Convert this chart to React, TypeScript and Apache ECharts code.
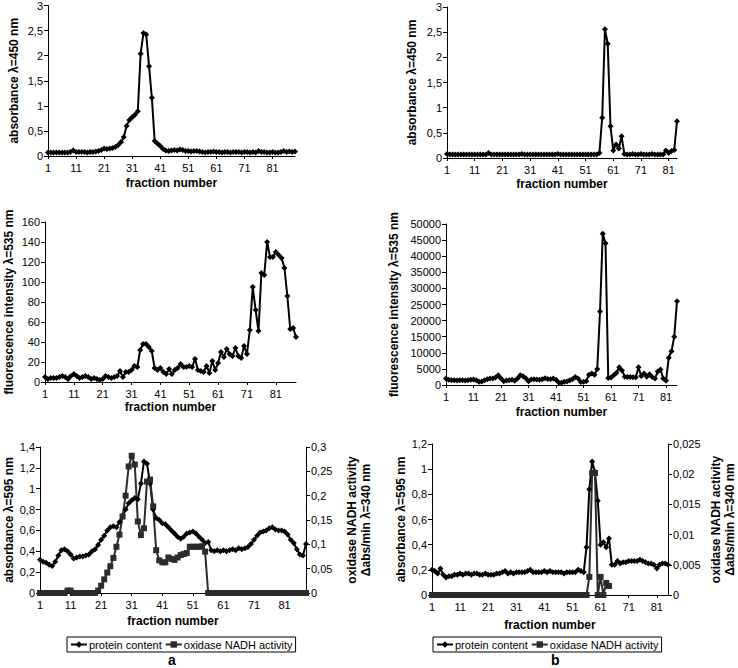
import React, { useEffect, useRef } from "react";
import * as echarts from "echarts";

// ---------- data ----------
// panel a, top: absorbance at 450 nm (fractions 1..89)
const absorbance450A = [
  0.07, 0.07, 0.07, 0.07, 0.07, 0.07, 0.07, 0.07, 0.08, 0.11,
  0.08, 0.08, 0.08, 0.08, 0.07, 0.08, 0.08, 0.09, 0.10, 0.12,
  0.15, 0.14, 0.15, 0.16, 0.18, 0.22, 0.28, 0.38, 0.60, 0.72,
  0.77, 0.82, 0.89, 2.04, 2.45, 2.42, 1.79, 1.16, 0.30, 0.25,
  0.20, 0.14, 0.11, 0.10, 0.11, 0.12, 0.11, 0.13, 0.12, 0.10,
  0.10, 0.09, 0.10, 0.10, 0.09, 0.08, 0.07, 0.08, 0.08, 0.09,
  0.08, 0.08, 0.07, 0.08, 0.08, 0.07, 0.08, 0.08, 0.08, 0.07,
  0.08, 0.08, 0.07, 0.08, 0.07, 0.10, 0.08, 0.08, 0.07, 0.07,
  0.08, 0.07, 0.07, 0.08, 0.10, 0.08, 0.09, 0.08, 0.09,
];
// panel b, top: absorbance at 450 nm (fractions 1..84)
const absorbance450B = [
  0.08, 0.07, 0.07, 0.07, 0.07, 0.07, 0.07, 0.07, 0.07, 0.07,
  0.07, 0.07, 0.07, 0.07, 0.07, 0.10, 0.07, 0.07, 0.07, 0.07,
  0.07, 0.07, 0.07, 0.07, 0.07, 0.07, 0.07, 0.08, 0.07, 0.07,
  0.07, 0.07, 0.07, 0.07, 0.07, 0.07, 0.07, 0.07, 0.07, 0.07,
  0.08, 0.07, 0.07, 0.07, 0.07, 0.07, 0.07, 0.07, 0.07, 0.07,
  0.07, 0.07, 0.07, 0.07, 0.07, 0.10, 0.80, 2.56, 2.27, 0.63,
  0.15, 0.27, 0.19, 0.43, 0.08, 0.07, 0.07, 0.08, 0.07, 0.07,
  0.08, 0.07, 0.07, 0.07, 0.08, 0.07, 0.07, 0.07, 0.07, 0.15,
  0.10, 0.14, 0.16, 0.73,
];
// panel a, middle: fluorescence at 535 nm (fractions 1..88)
const fluorescenceA = [
  5, 3, 4, 4, 4, 5, 6, 5, 3, 6,
  8, 6, 4, 5, 6, 5, 3, 4, 3, 2,
  3, 6, 5, 4, 5, 6, 11, 5, 10, 10,
  12, 16, 15, 32, 38, 38, 35, 31, 14, 12,
  14, 10, 8, 13, 8, 12, 14, 18, 15, 15,
  16, 15, 23, 12, 11, 10, 16, 9, 21, 12,
  19, 30, 25, 33, 28, 26, 34, 26, 24, 36,
  28, 52, 95, 72, 51, 109, 107, 140, 125, 125,
  130, 127, 124, 114, 86, 53, 54, 45,
];
// panel b, middle: fluorescence at 535 nm (fractions 1..85)
const fluorescenceB = [
  2000, 1600, 1500, 1500, 1400, 1500, 1500, 1400, 1500, 1600,
  1700, 1500, 1000, 1100, 1500, 1800, 2000, 2000, 2300, 3000,
  2000, 1200, 1400, 1500, 1600, 1300, 2000, 3000, 2700, 2100,
  1200, 1700, 1800, 1700, 1600, 1800, 2100, 1900, 1800, 2000,
  1600, 800, 700, 1000, 1100, 1500, 1800, 2500, 2000, 900,
  1000, 1200, 3200, 3600, 3200, 5000, 22800, 47000, 44000, 2200,
  2300, 3000, 3800, 5500, 4500, 2600, 2500, 2500, 2400, 2400,
  5500, 2800, 3600, 2600, 3300, 2500, 2000, 4200, 4800, 2000,
  1300, 8500, 10500, 15000, 26000,
];
// panel a, bottom: protein content (absorbance 595 nm) and NADH oxidase activity (fractions 1..88)
const proteinA = [
  0.32, 0.30, 0.29, 0.27, 0.26, 0.30, 0.36, 0.41, 0.42, 0.40,
  0.37, 0.33, 0.34, 0.35, 0.35, 0.36, 0.37, 0.40, 0.42, 0.46,
  0.51, 0.55, 0.60, 0.63, 0.64, 0.63, 0.68, 0.74, 0.80, 0.86,
  0.89, 0.91, 0.90, 1.05, 1.26, 1.24, 1.05, 0.80, 0.72, 0.70,
  0.67, 0.66, 0.63, 0.60, 0.57, 0.54, 0.52, 0.54, 0.57, 0.58,
  0.59, 0.57, 0.54, 0.51, 0.48, 0.49, 0.41, 0.40, 0.41, 0.40,
  0.41, 0.40, 0.41, 0.42, 0.41, 0.43, 0.42, 0.43, 0.44, 0.47,
  0.51, 0.55, 0.58, 0.59, 0.60, 0.62, 0.63, 0.61, 0.60, 0.60,
  0.59, 0.56, 0.51, 0.48, 0.42, 0.37, 0.36, 0.47,
];
const oxidaseA = [
  0, 0, 0, 0, 0, 0, 0, 0, 0, 0.005,
  0.005, 0, 0, 0, 0, 0, 0, 0, 0, 0.005,
  0.015, 0.028, 0.042, 0.055, 0.072, 0.095, 0.12, 0.157, 0.2, 0.26,
  0.282, 0.264, 0.147, 0.119, 0.133, 0.229, 0.233, 0.178, 0.088, 0.067,
  0.063, 0.063, 0.073, 0.07, 0.068, 0.073, 0.078, 0.08, 0.082, 0.095,
  0.095, 0.095, 0.095, 0.096, 0.085, 0, 0, 0, 0, 0,
  0, 0, 0, 0, 0, 0, 0, 0, 0, 0,
  0, 0, 0, 0, 0, 0, 0, 0, 0, 0,
  0, 0, 0, 0, 0, 0, 0, 0,
];
// panel b, bottom (fractions 1..85)
const proteinB = [
  0.20, 0.19, 0.17, 0.21, 0.16, 0.14, 0.15, 0.15, 0.16, 0.16,
  0.17, 0.16, 0.17, 0.17, 0.16, 0.17, 0.17, 0.16, 0.16, 0.17,
  0.16, 0.16, 0.16, 0.17, 0.17, 0.18, 0.19, 0.17, 0.18, 0.17,
  0.18, 0.18, 0.18, 0.18, 0.19, 0.20, 0.18, 0.18, 0.18, 0.18,
  0.19, 0.18, 0.19, 0.18, 0.18, 0.18, 0.18, 0.17, 0.18, 0.18,
  0.18, 0.18, 0.20, 0.19, 0.18, 0.38, 0.84, 1.06, 0.98, 0.75,
  0.40, 0.42, 0.38, 0.45, 0.24, 0.24, 0.27, 0.25, 0.26, 0.26,
  0.27, 0.27, 0.27, 0.27, 0.28, 0.27, 0.26, 0.25, 0.25, 0.24,
  0.21, 0.24, 0.25, 0.25, 0.24,
];
const oxidaseB: (number | null)[] = [
  0, 0, 0, 0, 0, 0, 0, 0, 0, 0,
  0, 0, 0, 0, 0, 0, 0, 0, 0, 0,
  0, 0, 0, 0, 0, 0, 0, 0, 0, 0,
  0, 0, 0, 0, 0, 0, 0, 0, 0, 0,
  0, 0, 0, 0, 0, 0, 0, 0, 0, 0,
  0, 0, 0, 0, 0, 0, 0.003, 0.0202, 0.0202, 0,
  0.003, 0, 0.002, 0.0015, null, null, null, null, null, null,
  null, null, null, null, null, null, null, null, null, null,
  null, null, null, null, null,
];

const legendNames = ["protein content", "oxidase NADH activity"];

// ---------- helpers ----------
const FONT = '"Liberation Sans", Arial, Helvetica, sans-serif';
const fractions = (n: number) => Array.from({ length: n }, (_, i) => String(i + 1));
const comma = (v: number) => String(+Number(v).toFixed(4)).replace(".", ",");

function makeX(gridIndex: number, n: number, nameGap: number) {
  return {
    type: "category",
    gridIndex,
    data: fractions(n),
    boundaryGap: false,
    name: "fraction number",
    nameLocation: "middle",
    nameGap,
    nameTextStyle: { fontFamily: FONT, fontSize: 12, fontWeight: "bold", color: "#000" },
    axisLine: { show: true, lineStyle: { color: "#000", width: 1 } },
    axisTick: { show: true, interval: 9, length: 3, lineStyle: { color: "#000" } },
    axisLabel: { interval: 9, margin: 6, fontFamily: FONT, fontSize: 11, color: "#000" },
    splitLine: { show: false },
  };
}

function makeY(
  gridIndex: number,
  max: number,
  interval: number,
  name: string,
  nameGap: number,
  position: "left" | "right" = "left",
) {
  return {
    type: "value",
    gridIndex,
    position,
    min: 0,
    max,
    interval,
    name,
    nameLocation: "middle",
    nameGap,
    nameRotate: 90,
    nameTextStyle: { fontFamily: FONT, fontSize: 12, fontWeight: "bold", color: "#000", lineHeight: 14 },
    axisLine: { show: true, lineStyle: { color: "#000", width: 1 } },
    axisTick: { show: true, length: 4, lineStyle: { color: "#000" } },
    axisLabel: { margin: 5, fontFamily: FONT, fontSize: 11, color: "#000", formatter: comma },
    splitLine: { show: false },
  };
}

function lineSeries(
  xi: number,
  yi: number,
  data: (number | null)[],
  symbol: string,
  name?: string,
  color = "#000",
) {
  return {
    type: "line",
    name,
    xAxisIndex: xi,
    yAxisIndex: yi,
    data,
    symbol,
    symbolSize: 6,
    showSymbol: true,
    showAllSymbol: true,
    connectNulls: false,
    lineStyle: { color, width: 2 },
    itemStyle: { color },
    emphasis: { disabled: true },
  };
}

export default function App() {
  const ref = useRef<HTMLDivElement>(null);

  useEffect(() => {
    if (!ref.current) return;
    const chart = echarts.init(ref.current, undefined, { renderer: "svg" });
    const legendBase = {
      orient: "horizontal",
      borderColor: "#000",
      borderWidth: 1,
      borderRadius: 0,
      padding: [2, 3, 2, 3],
      itemGap: 3,
      itemWidth: 16,
      itemHeight: 8,
      data: legendNames,
      textStyle: { fontFamily: FONT, fontSize: 11, color: "#000", padding: [0, 0, 0, -3] },
      selectedMode: false,
    };
    chart.setOption({
      animation: false,
      backgroundColor: "#fff",
      grid: [
        { left: 48, top: 5, width: 247, height: 151 },
        { left: 447, top: 7, width: 230, height: 151 },
        { left: 45, top: 222, width: 251, height: 160 },
        { left: 446, top: 224, width: 231, height: 161 },
        { left: 40, top: 447, width: 266, height: 146 },
        { left: 432, top: 444, width: 240, height: 151 },
      ],
      xAxis: [
        makeX(0, absorbance450A.length, 21),
        makeX(1, absorbance450B.length, 20),
        makeX(2, fluorescenceA.length, 19),
        makeX(3, fluorescenceB.length, 21),
        makeX(4, proteinA.length, 22),
        makeX(5, proteinB.length, 24),
      ],
      yAxis: [
        makeY(0, 3, 0.5, "absorbance λ=450 nm", 27),
        makeY(1, 3, 0.5, "absorbance λ=450 nm", 28),
        makeY(2, 160, 20, "fluorescence intensity λ=535 nm", 29),
        makeY(3, 50000, 5000, "fluorescence intensity λ=535 nm", 45),
        makeY(4, 1.4, 0.2, "absorbance λ=595 nm", 20),
        makeY(4, 0.3, 0.05, "oxidase NADH activity\nΔabs/min λ=340 nm", 39, "right"),
        makeY(5, 1.2, 0.2, "absorbance λ=595 nm", 24),
        makeY(5, 0.025, 0.005, "oxidase NADH activity\nΔabs/min λ=340 nm", 41, "right"),
      ],
      legend: [
        { ...legendBase, left: 67, top: 637 },
        { ...legendBase, left: 433, top: 637 },
      ],
      series: [
        lineSeries(0, 0, absorbance450A, "diamond"),
        lineSeries(1, 1, absorbance450B, "diamond"),
        lineSeries(2, 2, fluorescenceA, "diamond"),
        lineSeries(3, 3, fluorescenceB, "diamond"),
        lineSeries(4, 4, proteinA, "diamond", legendNames[0]),
        lineSeries(4, 5, oxidaseA, "rect", legendNames[1], "#2b2b2b"),
        lineSeries(5, 6, proteinB, "diamond", legendNames[0]),
        lineSeries(5, 7, oxidaseB, "rect", legendNames[1], "#2b2b2b"),
      ],
      graphic: [
        {
          type: "text",
          left: 168,
          top: 653,
          style: { text: "a", fontFamily: FONT, fontSize: 14, fontWeight: "bold", fill: "#000" },
        },
        {
          type: "text",
          left: 551,
          top: 653,
          style: { text: "b", fontFamily: FONT, fontSize: 14, fontWeight: "bold", fill: "#000" },
        },
      ],
    });
    return () => chart.dispose();
  }, []);

  return (
    <div
      ref={ref}
      style={{ position: "fixed", left: 0, top: 0, width: 738, height: 668, background: "#fff" }}
    />
  );
}
